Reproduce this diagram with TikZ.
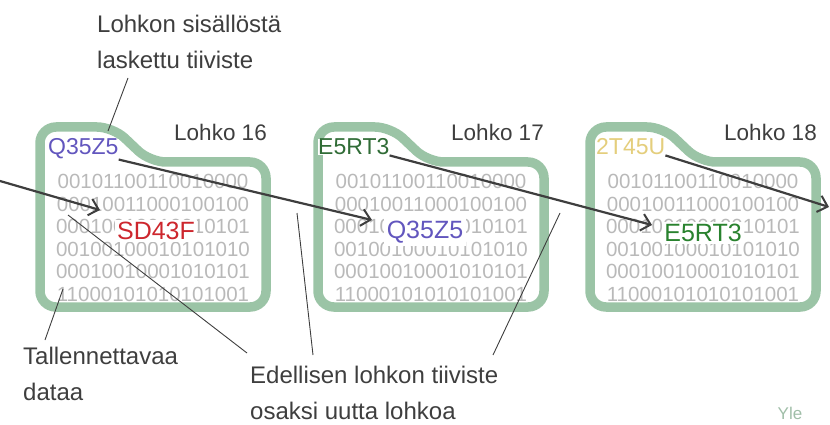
\documentclass[tikz,border=0pt]{standalone}
\usepackage{fontspec}
\setmainfont{Liberation Sans}
\usetikzlibrary{arrows.meta}

\definecolor{folder}{RGB}{155,196,166}
\definecolor{bitgray}{RGB}{185,185,185}
\definecolor{ink}{RGB}{62,62,62}
\definecolor{hashred}{RGB}{205,38,45}
\definecolor{hashpurple}{RGB}{98,86,190}
\definecolor{hashgreen}{RGB}{48,108,54}
\definecolor{hashyellow}{RGB}{228,206,124}
\definecolor{ylegreen}{RGB}{160,190,168}

\tikzset{
        block/.style={draw=folder, line width=9.5pt, rounded corners=16pt},
        bits/.style={text=bitgray, align=center, inner sep=0pt,
                font=\fontsize{20.5}{22.5}\selectfont},
        hash/.style={fill=white, inner sep=0pt, font=\fontsize{23}{26}\selectfont},
        midhash/.style={fill=white, inner sep=2.5pt, font=\fontsize{25}{28}\selectfont},
        title/.style={text=ink, inner sep=0pt, font=\fontsize{22.5}{26}\selectfont},
        note/.style={text=ink, align=left, inner sep=0pt, font=\fontsize{24}{36}\selectfont},
        link/.style={ink, line width=2.2pt,
                -{Straight Barb[length=9pt, width=17pt, line width=2pt]}},
        pointer/.style={ink, line width=0.9pt},
}

\begin{document}
\begin{tikzpicture}[x=1pt, y=-1pt]
        \useasboundingbox (0,0) rectangle (830,425);

        % lohkot
        \draw[block] (40,220) -- (40,127) -- (113,127) -- (150,162) -- (266,162) -- (266,307) -- (40,307) -- cycle;
        \draw[block] (318,220) -- (318,127) -- (391,127) -- (428,162) -- (544,162) -- (544,307) -- (318,307) -- cycle;
        \draw[block] (590,220) -- (590,127) -- (663,127) -- (700,162) -- (816,162) -- (816,307) -- (590,307) -- cycle;

        \node[bits] (data16) at (153,238) {00101100110010000\\00010011000100100\\00010010010010101\\00100100010101010\\00010010001010101\\11000101010101001};
        \node[bits] (data17) at (431,238) {00101100110010000\\00010011000100100\\00010010010010101\\00100100010101010\\00010010001010101\\11000101010101001};
        \node[bits] (data18) at (703,238) {00101100110010000\\00010011000100100\\00010010010010101\\00100100010101010\\00010010001010101\\11000101010101001};

        \node[midhash, text=hashred] (prev16) at (156,231) {SD43F};
        \node[midhash, text=hashpurple] (prev17) at (425,232) {Q35Z5};
        \node[midhash, text=hashgreen!85!green] (prev18) at (703,233) {E5RT3};

        \node[hash, text=hashpurple, anchor=base west] (hash16) at (48,155) {Q35Z5};
        \node[hash, text=hashgreen, anchor=base west] (hash17) at (318,155) {E5RT3};
        \node[hash, text=hashyellow, anchor=base west] (hash18) at (596,155) {2T45U};

        \node[title, anchor=base east] (lohko16) at (267,141) {Lohko 16};
        \node[title, anchor=base east] (lohko17) at (544,141) {Lohko 17};
        \node[title, anchor=base east] (lohko18) at (817,141) {Lohko 18};

        % selitteet
        \node[note, anchor=north west] (sisalto) at (97,15) {Lohkon sisällöstä\\laskettu tiiviste};
        \node[note, anchor=north west] (tallennus) at (23,347) {Tallennettavaa\\dataa};
        \node[note, anchor=north west] (edellinen) at (250,366) {Edellisen lohkon tiiviste\\osaksi uutta lohkoa};
        \node[text=ylegreen, inner sep=0pt, font=\fontsize{17}{20}\selectfont] (yle) at (790,413) {Yle};

        \coordinate (entry) at (0,181);
        \coordinate (tip16) at (100,210);
        \coordinate (tip17) at (372,220);
        \coordinate (tip18) at (652,225);
        \coordinate (exit) at (829,207);

        \draw[link] (entry) -- (tip16);
        \draw[link] (hash16.south east) -- (tip17);
        \draw[link] (hash17.south east) -- (tip18);
        \draw[link] (hash18.south east) -- (exit);

        \coordinate (s1) at (128,78);
        \coordinate (s2) at (108,131);
        \coordinate (t1) at (45,340);
        \coordinate (t2) at (63,289);
        \coordinate (e1) at (247,353);
        \coordinate (e2) at (313,355);
        \coordinate (e3) at (493,355);
        \coordinate (a16) at (68,215);
        \coordinate (a17) at (297,213);
        \coordinate (a18) at (560,213);

        \draw[pointer]
            (s1) edge (s2)
            (t1) edge (t2)
            (e1) edge (a16)
            (e2) edge (a17)
            (e3) edge (a18);
\end{tikzpicture}
\end{document}
